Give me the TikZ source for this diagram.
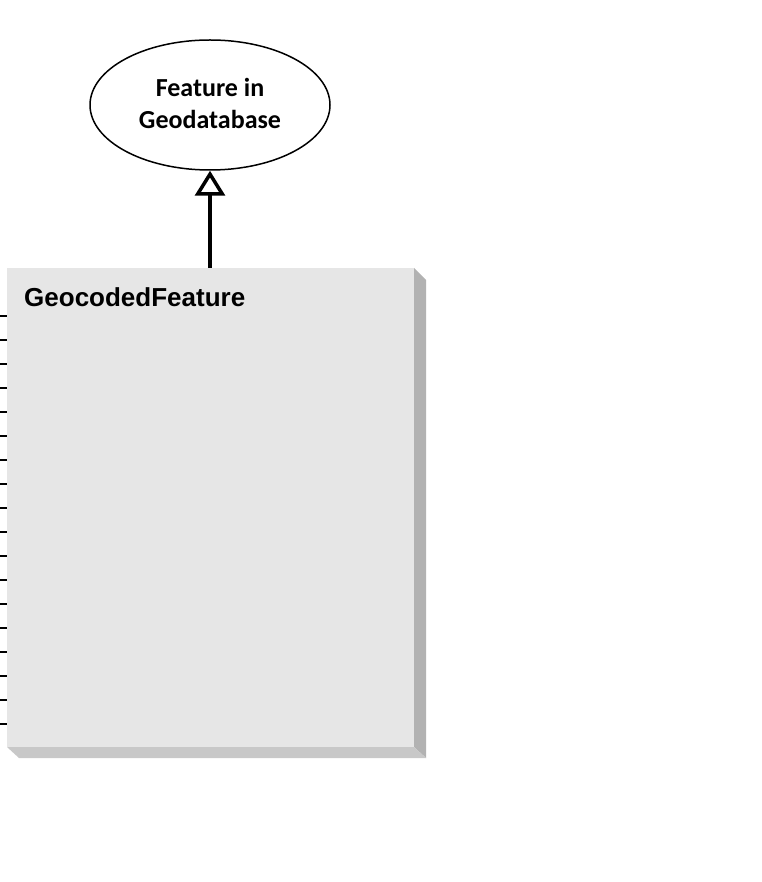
\documentclass[tikz,border=0pt]{standalone}
\usepackage{fontspec}
\setmainfont{Carlito}
\newfontfamily\arialfont{Liberation Sans}
\usetikzlibrary{shapes.geometric,arrows.meta}
\definecolor{boxfill}{RGB}{230,230,230}
\definecolor{shadowR}{RGB}{178,178,178}
\definecolor{shadowB}{RGB}{200,200,200}
\tikzset{
  classbox/.style={draw=none,fill=boxfill,rectangle,minimum width=407pt,minimum height=479pt,inner sep=0pt,anchor=north west},
  usecase/.style={ellipse,draw=black,line width=1.5pt,fill=white,minimum width=240pt,minimum height=130pt,inner sep=0pt,align=center,font=\bfseries\fontsize{26}{32}\selectfont},
  inherit/.style={line width=4pt,-{Triangle[open,length=25pt,width=30pt,line width=3.5pt,fill=white]}},
  tick/.style={line width=2pt}
}
\begin{document}
\begin{tikzpicture}[x=1pt,y=-1pt]
\useasboundingbox (0,0) rectangle (761,882);
% shadow
\fill[shadowR] (414,268) -- (426,280) -- (426,758) -- (414,747) -- cycle;
\fill[shadowB] (7,747) -- (414,747) -- (426,758) -- (19,758) -- cycle;
\node[classbox] (box) at (7,268) {};
\node[anchor=base west,inner sep=0pt,font=\arialfont\bfseries\fontsize{26}{30}\selectfont] (title) at (24,306) {GeocodedFeature};
\node[usecase] (uc) at (210,105) {\raisebox{3pt}{Feature in}\\\raisebox{3pt}{Geodatabase}};
\draw[inherit] (box.north -| uc.south) -- (uc.south);
\foreach \i in {0,...,17}{
  \coordinate (t\i) at (0,{316+24*\i});
  \draw[tick] (t\i) -- (t\i -| box.west);
}
\end{tikzpicture}
\end{document}
